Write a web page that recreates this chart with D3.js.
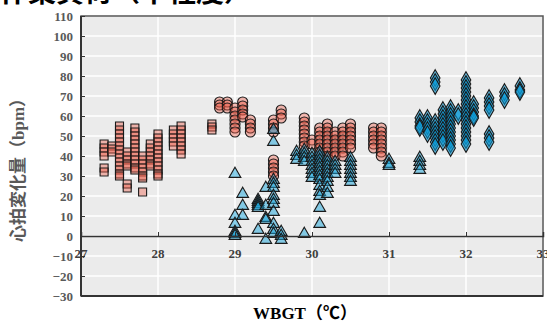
<!DOCTYPE html>
<html>
<head>
<meta charset="utf-8">
<script src="https://cdn.jsdelivr.net/npm/d3@7"></script>
<style>
  body { margin: 0; background: #fff; }
  svg text { font-family: "Liberation Serif", "Noto Sans CJK JP", serif; font-weight: bold; }
</style>
</head>
<body>
<div id="chart"></div>
<script>
// axis ticks
const xTicks = [27, 28, 29, 30, 31, 32, 33];
const yTicks = [-30, -20, -10, 0, 10, 20, 30, 40, 50, 60, 70, 80, 90, 100, 110];

// each entry: [WBGT, [heart rate change values]]
const squareData = [
  [27.3, [46, 44, 42, 40, 34, 32]],
  [27.4, [45, 43.5, 42]],
  [27.5, [55, 53, 51, 49, 47, 45, 43, 41, 39, 37, 35, 33, 31, 30]],
  [27.6, [42, 40, 38, 36, 35, 26, 24]],
  [27.7, [54, 52, 50, 48, 46, 44, 42, 40, 38, 36, 34, 33]],
  [27.8, [40, 38, 36, 34, 32, 30, 29, 22]],
  [27.9, [46, 44, 42, 40, 38, 36, 35]],
  [28.0, [51, 49, 47, 45, 43, 41, 39, 37, 35, 33, 31, 30]],
  [28.2, [53, 51, 49, 47, 45]],
  [28.3, [55, 53, 51, 49, 47, 45, 43, 41]],
  [28.7, [56, 54.5, 53]]
];
const circleData = [
  [28.8, [67, 65.5, 64]],
  [28.9, [67, 65.5, 64]],
  [29.0, [64, 62, 60, 58, 56, 54, 52]],
  [29.1, [67, 65, 63, 61, 59.5]],
  [29.2, [58, 56, 54, 52]],
  [29.5, [58, 56, 54, 52, 38, 36, 34, 32, 30]],
  [29.6, [63, 61, 59]],
  [29.9, [59, 57, 55, 53, 51, 49, 47, 45]],
  [30.0, [48, 46]],
  [30.1, [54, 52, 50, 48, 46, 44, 42, 40]],
  [30.2, [56, 54, 52, 50, 48, 46, 44, 42, 40]],
  [30.3, [52, 50, 48, 46, 44, 42, 40]],
  [30.4, [54, 52, 50, 48, 46, 44, 42, 40]],
  [30.5, [56, 54, 52, 50, 48, 46, 44]],
  [30.8, [54, 52, 50, 48, 46, 44]],
  [30.9, [54, 52, 50, 48, 46, 44, 42, 40]]
];
const triangleData = [
  [29.0, [31, 10, 6, 2, 1, 0]],
  [29.1, [21, 15, 10]],
  [29.3, [18, 17, 16, 15, 14, 3]],
  [29.4, [24, 15, 9, 8, -2]],
  [29.5, [53, 47, 28, 26, 24, 20, 18, 16, 12, 6, 3, 1]],
  [29.6, [2, 0, -2]],
  [29.8, [42, 40, 38]],
  [29.9, [43, 41, 39, 37, 1]],
  [30.0, [41, 39, 37, 35, 33, 31, 29]],
  [30.1, [42, 40, 38, 36, 34, 32, 30, 28, 25, 22, 20, 14, 6]],
  [30.2, [39, 37, 35, 33, 31, 29, 27, 24, 21]],
  [30.3, [37, 35, 33, 31]],
  [30.5, [39, 37, 35, 33, 31, 29, 27]],
  [31.0, [38, 36, 35]],
  [31.4, [39, 37, 35, 33]]
];
const diamondData = [
  [31.4, [59, 57, 55, 54]],
  [31.5, [59, 57, 55, 53, 51]],
  [31.6, [79, 77, 75, 57, 55, 53, 51, 49, 47, 45]],
  [31.7, [63, 61, 59, 57, 55, 53, 51, 49, 47]],
  [31.8, [64, 62, 60, 58, 56, 54, 52, 50, 48, 46, 44]],
  [31.9, [62, 60]],
  [32.0, [78, 76, 74, 72, 70, 68, 66, 64, 62, 60, 58, 56, 54, 52, 50, 48, 46]],
  [32.1, [66, 64, 62, 60, 59]],
  [32.3, [69, 67, 65, 63, 51, 49, 47]],
  [32.5, [72, 70, 68]],
  [32.7, [75, 73, 72]]
];

const W = 547, H = 322;
const margin = { top: 16, right: 4, bottom: 26, left: 81 };
const width = W - margin.left - margin.right;
const height = H - margin.top - margin.bottom;

const svg = d3.select('#chart').append('svg')
  .attr('width', W).attr('height', H);

// title, cut off at the top like the source
svg.append('text')
  .attr('x', 0).attr('y', 2)
  .style('font-family', '"Noto Sans CJK JP", sans-serif')
  .style('font-size', '28px')
  .attr('fill', '#000')
  .text('作業負荷（中程度）');

const g = svg.append('g').attr('transform', `translate(${margin.left},${margin.top})`);

const x = d3.scaleLinear().domain([27, 33]).range([0, width]);
const y = d3.scaleLinear().domain([-30, 110]).range([height, 0]);

g.append('rect').attr('width', width).attr('height', height).attr('fill', '#ebebeb');

// grid
g.selectAll('.vgrid').data(xTicks).enter().append('line')
  .attr('x1', d => x(d)).attr('x2', d => x(d))
  .attr('y1', 0).attr('y2', height)
  .attr('stroke', '#fff').attr('stroke-width', 1.5);
g.selectAll('.hgrid').data(yTicks).enter().append('line')
  .attr('x1', 0).attr('x2', width)
  .attr('y1', d => y(d)).attr('y2', d => y(d))
  .attr('stroke', '#fff').attr('stroke-width', 1.5);

function flat(data) {
  const out = [];
  data.forEach(([xv, ys]) => ys.forEach(yv => out.push({ x: xv, y: yv })));
  return out;
}

function drawSeries(data, type, size, fill, opacity) {
  const sym = d3.symbol().type(type).size(size);
  g.append('g').selectAll('path').data(flat(data)).enter().append('path')
    .attr('transform', d => `translate(${x(d.x)},${y(d.y)})`)
    .attr('d', sym)
    .attr('fill', fill)
    .attr('fill-opacity', opacity)
    .attr('stroke', '#1a1a1a')
    .attr('stroke-width', 1.1);
}

drawSeries(squareData, d3.symbolSquare, 64, '#ee5a45', 0.4);
drawSeries(circleData, d3.symbolCircle, 80, '#ee5a45', 0.4);
drawSeries(diamondData, d3.symbolDiamond, 80, '#0a9ad6', 0.6);
drawSeries(triangleData, d3.symbolTriangle, 60, '#1aa6dc', 0.5);

// frame
g.append('rect').attr('width', width).attr('height', height)
  .attr('fill', 'none').attr('stroke', '#555').attr('stroke-width', 1.5);
g.append('line').attr('x1', 0).attr('x2', 0).attr('y1', 0).attr('y2', height)
  .attr('stroke', '#333').attr('stroke-width', 2);
g.append('line').attr('x1', 0).attr('x2', width).attr('y1', height).attr('y2', height)
  .attr('stroke', '#333').attr('stroke-width', 2);

// x axis through zero
const xAxis = g.append('g').attr('transform', `translate(0,${y(0)})`)
  .call(d3.axisTop(x).tickValues(xTicks).tickSize(4).tickFormat(''));
xAxis.select('.domain').attr('stroke', '#333').attr('stroke-width', 1.5);
xAxis.selectAll('.tick line').attr('stroke', '#333');
g.selectAll('.xlab').data(xTicks).enter().append('text')
  .attr('x', d => x(d)).attr('y', y(0) + 22)
  .attr('text-anchor', 'middle')
  .style('font-size', '13px').attr('fill', '#404040')
  .text(d => d);

// y axis
const yAxis = g.append('g')
  .call(d3.axisLeft(y).tickValues(yTicks).tickSize(-4).tickPadding(8));
yAxis.select('.domain').remove();
yAxis.selectAll('.tick line').attr('stroke', '#333');
yAxis.selectAll('text')
  .style('font-size', '13px').style('font-weight', 'bold')
  .style('font-family', '"Liberation Serif", serif')
  .attr('fill', '#595959');

// axis titles
svg.append('text')
  .attr('transform', 'translate(24,166) rotate(-90)')
  .attr('text-anchor', 'middle')
  .style('font-size', '17px').attr('fill', '#595959')
  .text('心拍変化量（bpm）');

svg.append('text')
  .attr('x', 305).attr('y', 319)
  .attr('text-anchor', 'middle')
  .style('font-size', '17px').attr('fill', '#000')
  .text('WBGT（℃）');
</script>
</body>
</html>
